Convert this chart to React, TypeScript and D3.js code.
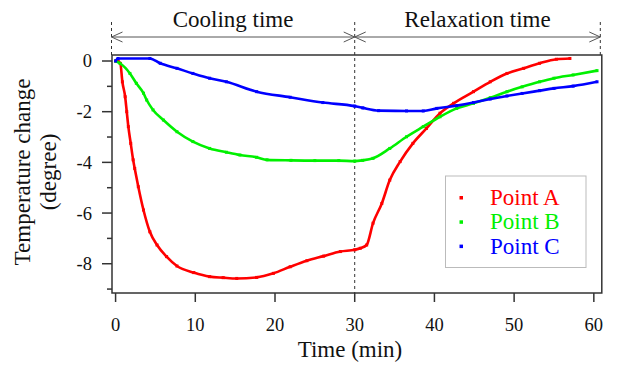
import * as React from "react"
import * as d3 from "d3"

// time (min) and temperature change (degree)
const timeA = [0, 0.3, 0.6, 0.85, 1.2, 1.4, 1.6, 1.9, 2.2, 2.4, 2.85, 3.5, 4.3, 5.2, 6.4, 7.7, 9.8, 11.8, 13.5, 15.2, 17.7, 19.8, 21.9, 24, 26.1, 28.2, 30, 30.7, 31.5, 32.3, 33.4, 34.4, 35.7, 37.3, 39, 40.7, 42.4, 44.9, 47, 49.1, 51.2, 53.2, 55.3, 57]
const valueA = [0, 0, -0.1, -0.82, -1.41, -2.0, -2.59, -3.25, -3.9, -4.24, -4.96, -5.88, -6.74, -7.26, -7.72, -8.09, -8.35, -8.51, -8.55, -8.58, -8.54, -8.38, -8.12, -7.88, -7.7, -7.52, -7.45, -7.39, -7.26, -6.4, -5.62, -4.7, -3.97, -3.25, -2.66, -2.06, -1.67, -1.21, -0.82, -0.49, -0.29, -0.09, 0.07, 0.1]

const timeB = [0, 0.55, 1.8, 2.6, 3.5, 3.9, 4.7, 6.0, 7.7, 9.7, 11.8, 13.9, 15.6, 17.7, 19, 22, 25, 28, 30, 31, 32.3, 34.4, 36.5, 38.6, 40.7, 42.8, 44.9, 47, 49.1, 51, 53.2, 55, 57.4, 60.4]
const valueB = [0, -0.09, -0.49, -0.88, -1.27, -1.54, -1.93, -2.33, -2.79, -3.18, -3.45, -3.6, -3.71, -3.8, -3.9, -3.92, -3.93, -3.93, -3.95, -3.92, -3.84, -3.45, -2.99, -2.59, -2.2, -1.87, -1.67, -1.45, -1.21, -1.02, -0.82, -0.68, -0.55, -0.38]

const timeC = [0, 0.3, 4.3, 5.6, 7.7, 9.7, 11.8, 13.9, 17.7, 21.9, 26, 30, 31, 33, 36.5, 38.6, 40.3, 42.8, 44.9, 47, 49.1, 51, 53.2, 55, 57.4, 60.4]
const valueC = [0, 0.1, 0.1, -0.09, -0.29, -0.49, -0.68, -0.82, -1.21, -1.43, -1.64, -1.78, -1.85, -1.96, -1.97, -1.97, -1.87, -1.76, -1.64, -1.5, -1.38, -1.28, -1.17, -1.08, -0.99, -0.82]

const seriesNames = ["Point A", "Point B", "Point C"]
const seriesColors = ["#ff0000", "#00f000", "#0000ff"]
const xTicks = [0, 10, 20, 30, 40, 50, 60]
const yMajor = [0, -2, -4, -6, -8]
const yMinor = [-1, -3, -5, -7, -9]
const phaseLabels = ["Cooling time", "Relaxation time"]
const phaseBounds = [0, 30, 60]

const W = 617
const H = 367
const FONT = "Liberation Serif"

export default function App() {
  const x = d3.scaleLinear().domain([-0.45, 61]).range([112, 601.8])
  const y = d3.scaleLinear().domain([-9.155, 0.237]).range([293, 55])

  const series = [
    timeA.map((t, i) => [t, valueA[i]] as [number, number]),
    timeB.map((t, i) => [t, valueB[i]] as [number, number]),
    timeC.map((t, i) => [t, valueC[i]] as [number, number]),
  ]

  const line = d3.line<[number, number]>()
    .x(d => x(d[0]))
    .y(d => y(d[1]))
    .curve(d3.curveMonotoneX)

  const [x0, x1] = x.range()
  const [yb, yt] = y.range()
  const arrowY = 37
  const dashTop = 22
  // phase boundaries: left frame edge, 30 min, right frame edge
  const bx = [x0 - 0.5, x(phaseBounds[1]), x1 - 1.5]

  const chevron = (px: number, dir: number) =>
    `M${px - dir * 11},${arrowY - 5}L${px},${arrowY}L${px - dir * 11},${arrowY + 5}`

  return (
    <div style={{ position: "absolute", left: 0, top: 0, fontFamily: FONT }}>
      <svg width={W} height={H} fontFamily={FONT}>
        {/* dashed phase markers */}
        <g stroke="#333" strokeWidth={1} strokeDasharray="3,3" fill="none">
          <line x1={bx[0]} x2={bx[0]} y1={dashTop} y2={yt} />
          <line x1={bx[1]} x2={bx[1]} y1={dashTop} y2={yb} />
          <line x1={bx[2]} x2={bx[2]} y1={dashTop} y2={yt} />
        </g>
        {/* arrows */}
        <g stroke="#555" strokeWidth={1} fill="none">
          <line x1={bx[0]} x2={bx[2]} y1={arrowY} y2={arrowY} />
          <path d={chevron(bx[0], -1)} />
          <path d={chevron(bx[1], 1)} />
          <path d={chevron(bx[1], -1)} />
          <path d={chevron(bx[2], 1)} />
        </g>
        {phaseLabels.map((lab, i) => (
          <text key={lab} x={(bx[i] + bx[i + 1]) / 2} y={27} fontSize={23} textAnchor="middle" fill="#111" fontFamily={FONT}>{lab}</text>
        ))}

        {/* data */}
        {series.map((s, i) => (
          <g key={seriesNames[i]}>
            <path d={line(s) ?? ""} fill="none" stroke={seriesColors[i]} strokeWidth={2.6} />
            {s.map((d, j) => (
              <rect key={j} x={x(d[0]) - 1.5} y={y(d[1]) - 1.5} width={3} height={3} fill={seriesColors[i]} />
            ))}
          </g>
        ))}

        {/* frame */}
        <rect x={x0} y={yt} width={x1 - x0} height={yb - yt} fill="none" stroke="#333" strokeWidth={1.5} />

        {/* x axis */}
        <g stroke="#333" strokeWidth={1.5}>
          {xTicks.map(t => (
            <line key={t} x1={x(t)} x2={x(t)} y1={yb} y2={yb + 9} />
          ))}
        </g>
        {xTicks.map(t => (
          <text key={t} x={x(t)} y={331} fontSize={18.5} textAnchor="middle" fill="#111" fontFamily={FONT}>{t}</text>
        ))}
        <text x={350} y={357} fontSize={23} textAnchor="middle" fill="#111" fontFamily={FONT}>Time (min)</text>

        {/* y axis */}
        <g stroke="#333" strokeWidth={1.5}>
          {yMajor.map(v => (
            <line key={v} x1={x0 - 10} x2={x0} y1={y(v)} y2={y(v)} />
          ))}
          {yMinor.map(v => (
            <line key={v} x1={x0 - 5} x2={x0} y1={y(v)} y2={y(v)} />
          ))}
        </g>
        {yMajor.map(v => (
          <text key={v} x={92} y={y(v)} dy="0.35em" fontSize={18.5} textAnchor="end" fill="#111" fontFamily={FONT}>{v}</text>
        ))}
        <g transform="translate(0,172) rotate(-90)" fill="#111" fontSize={23} textAnchor="middle">
          <text x={0} y={30} fontFamily={FONT}>Temperature change</text>
          <text x={0} y={56} fontFamily={FONT}>(degree)</text>
        </g>

        {/* legend */}
        <rect x={445.5} y={176} width={140.5} height={91.5} fill="#fff" stroke="#bbb" strokeWidth={1} />
        {seriesNames.map((n, i) => (
          <g key={n}>
            <rect x={459.5} y={196 + i * 24.3} width={3.5} height={3.5} fill={seriesColors[i]} />
            <text x={490} y={205 + i * 24.3} fontSize={23} fill={seriesColors[i]} fontFamily={FONT}>{n}</text>
          </g>
        ))}
      </svg>
    </div>
  )
}
